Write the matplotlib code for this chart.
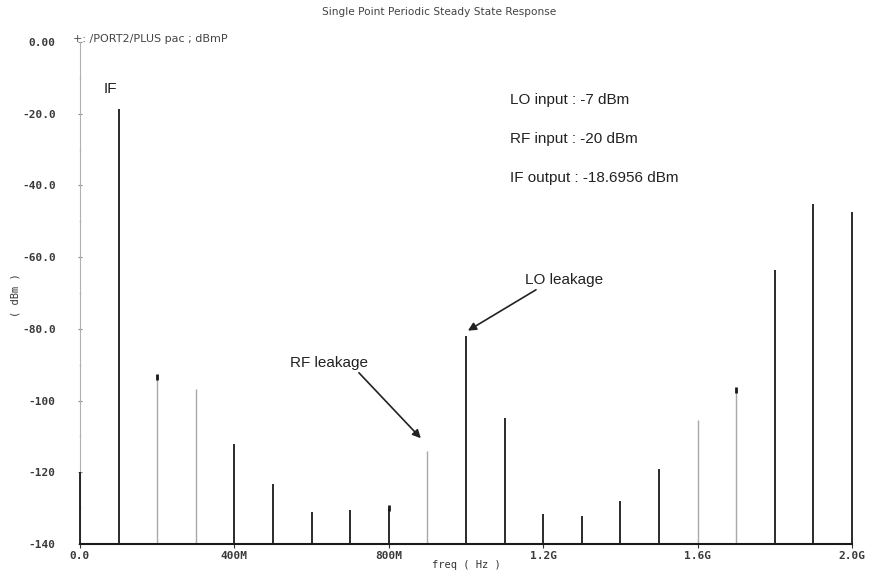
import matplotlib
matplotlib.use("Agg")
import matplotlib.pyplot as plt

# ---- data ----
freq_mhz = [0, 100, 200, 300, 400, 500, 600, 700, 800, 900, 1000,
            1100, 1200, 1300, 1400, 1500, 1600, 1700, 1800, 1900, 2000]
power_dbm = [-120.0, -18.7, -93.5, -96.8, -112.2, -123.4, -131.0, -130.4, -129.9, -114.2, -81.9,
             -105.0, -131.6, -132.1, -128.0, -119.2, -105.5, -97.0, -63.7, -45.3, -47.5]
light_mhz = [200, 300, 900, 1600, 1700]      # spurs drawn in light grey
dot_mhz = [200, 800, 1700]                   # spurs with a dot at the top

yticks = [0, -20, -40, -60, -80, -100, -120, -140]
ytick_labels = ["0.00", "-20.0", "-40.0", "-60.0", "-80.0", "-100", "-120", "-140"]
xticks_mhz = [0, 400, 800, 1200, 1600, 2000]
xtick_labels = ["0.0", "400M", "800M", "1.2G", "1.6G", "2.0G"]

title = "Single Point Periodic Steady State Response"
trace_label = "+: /PORT2/PLUS pac ; dBmP"
info_lines = ["LO input : -7 dBm", "RF input : -20 dBm", "IF output : -18.6956 dBm"]

# ---- figure ----
fig = plt.figure(figsize=(8.7, 5.75), dpi=100)
ax = fig.add_axes([80 / 870, 31 / 575, 772 / 870, 502 / 575])

ymin = -140
dark_f = [f * 1e6 for f, p in zip(freq_mhz, power_dbm) if f not in light_mhz]
dark_p = [p for f, p in zip(freq_mhz, power_dbm) if f not in light_mhz]
light_f = [f * 1e6 for f, p in zip(freq_mhz, power_dbm) if f in light_mhz]
light_p = [p for f, p in zip(freq_mhz, power_dbm) if f in light_mhz]
ax.vlines(dark_f, ymin, dark_p, colors="#1a1a1a", linewidth=1.3, clip_on=False, zorder=3)
ax.vlines(light_f, ymin, light_p, colors="#a8a8a8", linewidth=1.0, clip_on=False, zorder=3)
dot_f = [f * 1e6 for f in freq_mhz if f in dot_mhz]
dot_p = [p for f, p in zip(freq_mhz, power_dbm) if f in dot_mhz]
ax.plot(dot_f, dot_p, linestyle="none", marker="|", markersize=4, color="#1a1a1a", mew=2,
        clip_on=False, zorder=4)

ax.set_xlim(0, 2.0e9)
ax.set_ylim(-140, 0)
ax.set_yticks(yticks)
ax.set_yticklabels(ytick_labels)
ax.set_yticks(list(range(-130, 0, 20)), minor=True)
ax.set_xticks([f * 1e6 for f in xticks_mhz])
ax.set_xticklabels(xtick_labels)
ax.set_xticks([f * 1e6 for f in freq_mhz], minor=True)

for lab in ax.get_yticklabels() + ax.get_xticklabels():
    lab.set_fontfamily("DejaVu Sans Mono")
    lab.set_fontsize(8)
    lab.set_fontweight("bold")
    lab.set_color("#3a3a3a")

for s in ["top", "right"]:
    ax.spines[s].set_visible(False)
ax.spines["left"].set_color("#b0b0b0")
ax.spines["left"].set_linewidth(0.8)
ax.spines["bottom"].set_color("#1a1a1a")
ax.spines["bottom"].set_linewidth(1.5)
ax.spines["bottom"].set_zorder(5)
ax.tick_params(axis="y", which="major", length=3, color="#888888", pad=16, direction="inout")
ax.tick_params(axis="y", which="minor", length=2, color="#bbbbbb", direction="inout")
ax.tick_params(axis="x", which="major", length=3, color="#333333", pad=2)
ax.tick_params(axis="x", which="minor", length=0)

ax.set_xlabel("freq ( Hz )", fontfamily="DejaVu Sans Mono", fontsize=7.5, color="#333333")
ax.xaxis.set_label_coords((466 - 80) / 772, -(565 - 544) / 502)
ax.xaxis.label.set_va("center")
ax.set_ylabel("( dBm )", fontfamily="DejaVu Sans Mono", fontsize=7.5, color="#333333")
ax.yaxis.set_label_coords(-(80 - 15) / 772, (544 - 295) / 502)
ax.yaxis.label.set_va("center")

fig.text(439 / 870, 1 - 12 / 575, title, ha="center", va="center",
         fontfamily="DejaVu Sans", fontsize=7.6, color="#444444")
fig.text(73 / 870, 1 - 39 / 575, trace_label, ha="left", va="center",
         fontfamily="DejaVu Sans", fontsize=8, color="#444444")

txt = dict(fontfamily="Liberation Sans", fontsize=11, color="#222222")
fig.text(104 / 870, 1 - 89 / 575, "IF", ha="left", va="center", **txt)
for i, line in enumerate(info_lines):
    fig.text(510 / 870, 1 - (100 + 39 * i) / 575, line, ha="left", va="center", **txt)

ax.annotate("LO leakage", xy=(1.005e9, -80.5), xycoords="data",
            xytext=(525 / 870, 1 - 280 / 575), textcoords="figure fraction",
            ha="left", va="center", **txt,
            arrowprops=dict(arrowstyle="-|>", color="#222222", lw=1.2,
                            mutation_scale=12, shrinkA=0, shrinkB=0,
                            relpos=(0.2, 0.0)))
ax.annotate("RF leakage", xy=(0.883e9, -110.5), xycoords="data",
            xytext=(290 / 870, 1 - 363 / 575), textcoords="figure fraction",
            ha="left", va="center", **txt,
            arrowprops=dict(arrowstyle="-|>", color="#222222", lw=1.2,
                            mutation_scale=12, shrinkA=0, shrinkB=0,
                            relpos=(0.85, 0.0)))

fig.savefig("out.png", dpi=100, facecolor="white")
